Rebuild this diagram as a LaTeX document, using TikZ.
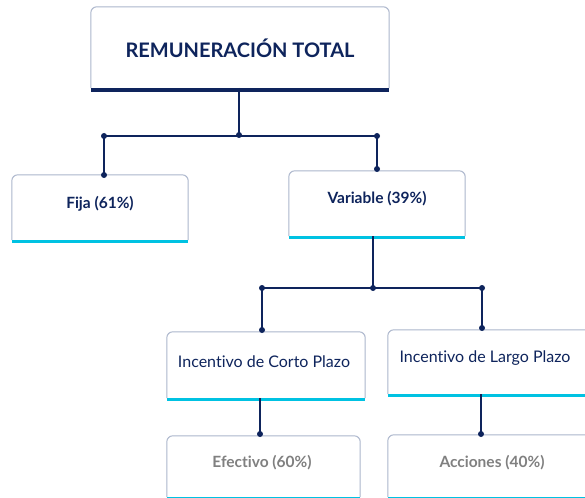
\documentclass[tikz,border=0pt]{standalone}
\usepackage{fontspec}
\setmainfont{Lato}[Ligatures={NoCommon}]
\definecolor{navy}{RGB}{14,36,92}
\definecolor{cyanbar}{RGB}{0,194,226}
\definecolor{edgegray}{RGB}{172,182,204}
\definecolor{txtgray}{RGB}{128,128,128}
\begin{document}
\begin{tikzpicture}[x=1pt,y=-1pt,
  card/.style={rectangle, inner sep=0pt},
  lbl/.style={font=\fontsize{16}{19}\selectfont, text=navy},
  blbl/.style={font=\fontsize{15.5}{19}\selectfont\bfseries, text=navy},
  glbl/.style={font=\fontsize{15.5}{19}\selectfont\bfseries, text=txtgray},
  conn/.style={draw=navy, line width=1.1pt},
  dotc/.style={fill=navy}]
\useasboundingbox (0,0) rectangle (585,497);
\fill[white] (0,0) rectangle (585,497);
% nodes
\node[card, minimum width=298pt, minimum height=81pt] (top) at (240,47.5) {};
\node[font=\fontsize{20}{24}\selectfont\bfseries, text=navy] (toptxt) at (240,48) {REMUNERACIÓN TOTAL};
\node[card, minimum width=176pt, minimum height=65pt] (fija) at (100,207.5) {};
\node[blbl] (fijatxt) at (100,204) {Fija (61\%)};
\node[card, minimum width=176pt, minimum height=65pt] (var) at (377,203.5) {};
\node[blbl] (vartxt) at (377,199) {Variable (39\%)};
\node[card, minimum width=198pt, minimum height=66pt] (corto) at (266,365) {};
\node[lbl] (cortotxt) at (264,362) {Incentivo de Corto Plazo};
\node[card, minimum width=204pt, minimum height=64pt] (largo) at (490,362) {};
\node[lbl] (largotxt) at (485,358) {Incentivo de Largo Plazo};
\node[card, minimum width=193pt, minimum height=61pt] (efec) at (263.5,466.5) {};
\node[glbl] (efectxt) at (262,463) {Efectivo (60\%)};
\node[card, minimum width=204pt, minimum height=62pt] (acc) at (490,466) {};
\node[glbl] (acctxt) at (492,463) {Acciones (40\%)};
% borders and bars
\foreach \n/\bw/\bc in {top/4/navy, fija/3/cyanbar, var/3/cyanbar, corto/3/cyanbar, largo/3/cyanbar, efec/3/cyanbar, acc/3/cyanbar}{
  \draw[edgegray, line width=1pt, rounded corners=6pt] (\n.south west) -- (\n.north west) -- (\n.north east) -- (\n.south east);
  \fill[\bc] ([yshift=-\bw pt]\n.south west) rectangle (\n.south east);
}
% junction coordinates
\coordinate (j0) at (239,135);
\coordinate (jf) at (104,136);
\coordinate (jv) at (377,136);
\coordinate (fT) at (104,175);
\coordinate (vT) at (377,169);
\coordinate (vB) at (373,236);
\coordinate (k0) at (373,288);
\coordinate (kc) at (262,288);
\coordinate (kl) at (482,288);
\coordinate (cT) at (262,330);
\coordinate (lT) at (482,328);
\coordinate (cB) at (260,398);
\coordinate (eT) at (260,434);
\coordinate (lB) at (481,394);
\coordinate (aT) at (481,434);
% connectors
\draw[conn] (239,88) -- (j0);
\draw[conn] (jf) -- (jv);
\draw[conn] (jf) -- (fT);
\draw[conn] (jv) -- (vT);
\draw[conn] (vB) -- (k0);
\draw[conn] (kc) -- (kl);
\draw[conn] (kc) -- (cT);
\draw[conn] (kl) -- (lT);
\draw[conn] (cB) -- (eT);
\draw[conn] (lB) -- (aT);
% dots
\foreach \c in {j0,jf,jv,fT,vT,k0,kc,kl,cT,lT,eT,aT}{
  \fill[dotc] (\c) circle (3pt);
}
\end{tikzpicture}
\end{document}
